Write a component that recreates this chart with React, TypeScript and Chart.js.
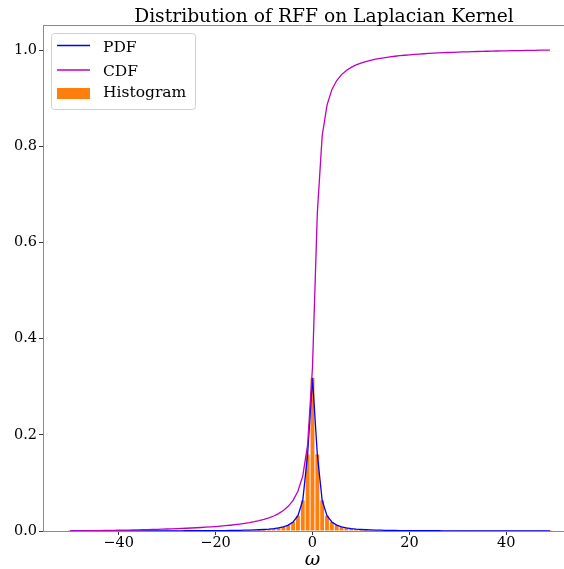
import React, { useEffect, useRef } from "react";
import { Chart, registerables } from "chart.js";

Chart.register(...registerables);

const titleText = "Distribution of RFF on Laplacian Kernel";
const xLabelText = "ω";
const legendLabels = ["PDF", "CDF", "Histogram"];

const omega = [
  -50, -49, -48, -47, -46, -45, -44, -43, -42, -41,
  -40, -39, -38, -37, -36, -35, -34, -33, -32, -31,
  -30, -29, -28, -27, -26, -25, -24, -23, -22, -21,
  -20, -19, -18, -17, -16, -15, -14, -13, -12, -11,
  -10, -9, -8, -7, -6, -5, -4, -3, -2, -1,
  0,
  1, 2, 3, 4, 5, 6, 7, 8, 9, 10,
  11, 12, 13, 14, 15, 16, 17, 18, 19, 20,
  21, 22, 23, 24, 25, 26, 27, 28, 29, 30,
  31, 32, 33, 34, 35, 36, 37, 38, 39, 40,
  41, 42, 43, 44, 45, 46, 47, 48, 49,
];

const pdfValues = [
  0.000127, 0.000133, 0.000138, 0.000144, 0.00015, 0.000157, 0.000164, 0.000172, 0.00018, 0.000189,
  0.000199, 0.000209, 0.00022, 0.000232, 0.000245, 0.00026, 0.000275, 0.000292, 0.000311, 0.000331,
  0.000353, 0.000378, 0.000405, 0.000436, 0.00047, 0.000508, 0.000552, 0.000601, 0.000656, 0.00072,
  0.000794, 0.000879, 0.000979, 0.001098, 0.001239, 0.001408, 0.001616, 0.001872, 0.002195, 0.002609,
  0.003152, 0.003882, 0.004897, 0.006366, 0.008603, 0.012243, 0.018724, 0.031831, 0.063662, 0.159155,
  0.31831,
  0.159155, 0.063662, 0.031831, 0.018724, 0.012243, 0.008603, 0.006366, 0.004897, 0.003882, 0.003152,
  0.002609, 0.002195, 0.001872, 0.001616, 0.001408, 0.001239, 0.001098, 0.000979, 0.000879, 0.000794,
  0.00072, 0.000656, 0.000601, 0.000552, 0.000508, 0.00047, 0.000436, 0.000405, 0.000378, 0.000353,
  0.000331, 0.000311, 0.000292, 0.000275, 0.00026, 0.000245, 0.000232, 0.00022, 0.000209, 0.000199,
  0.000189, 0.00018, 0.000172, 0.000164, 0.000157, 0.00015, 0.000144, 0.000138, 0.000133,
];

const cdfValues = [
  0, 0.000128, 0.000262, 0.000402, 0.000547, 0.000698, 0.000857, 0.001022, 0.001196, 0.001377,
  0.001568, 0.001769, 0.00198, 0.002202, 0.002436, 0.002683, 0.002945, 0.003223, 0.003518, 0.003831,
  0.004165, 0.004522, 0.004903, 0.005312, 0.005752, 0.006226, 0.006739, 0.007296, 0.007902, 0.008564,
  0.009291, 0.010092, 0.010979, 0.011967, 0.013075, 0.014325, 0.015746, 0.017376, 0.019265, 0.02148,
  0.024113, 0.027293, 0.031211, 0.036152, 0.042576, 0.051257, 0.063611, 0.082505, 0.114625, 0.178863,
  0.339463,
  0.660665, 0.821264, 0.885503, 0.917623, 0.936517, 0.948871, 0.957552, 0.963976, 0.968918, 0.972835,
  0.976015, 0.978648, 0.980863, 0.982752, 0.984383, 0.985803, 0.987054, 0.988162, 0.989149, 0.990036,
  0.990838, 0.991564, 0.992226, 0.992833, 0.99339, 0.993902, 0.994376, 0.994816, 0.995225, 0.995606,
  0.995963, 0.996297, 0.996611, 0.996905, 0.997183, 0.997445, 0.997692, 0.997926, 0.998148, 0.998359,
  0.99856, 0.998751, 0.998932, 0.999106, 0.999271, 0.99943, 0.999581, 0.999727, 0.999866,
];

// histogram bin heights (same as sampled density at integer bins)
const histHeights = pdfValues;

const xTicks = [-40, -20, 0, 20, 40];
const yTicks = [0, 0.2, 0.4, 0.6, 0.8, 1.0];

const FONT = '"DejaVu Serif", serif';
const SPINE = "#8a8a8a";
const BLUE = "#0000ff";
const MAGENTA = "#bf00bf";
const ORANGE = "#ff7f0e";

const overlayPlugin = {
  id: "overlay",
  afterDraw(chart: any) {
    const { ctx, chartArea } = chart;
    ctx.save();
    // top spine
    ctx.strokeStyle = SPINE;
    ctx.lineWidth = 1;
    ctx.beginPath();
    ctx.moveTo(chartArea.left, chartArea.top + 0.5);
    ctx.lineTo(chartArea.right, chartArea.top + 0.5);
    ctx.stroke();

    // title
    ctx.fillStyle = "#000";
    ctx.font = `18.7px ${FONT}`;
    ctx.textAlign = "center";
    ctx.textBaseline = "alphabetic";
    ctx.fillText(titleText, 324, 22);

    // x label
    ctx.font = `italic 19px ${FONT}`;
    ctx.fillText(xLabelText, chart.scales.x.getPixelForValue(0), 565);

    // legend
    const bx = 51.5, by = 33.5, bw = 144, bh = 76;
    ctx.beginPath();
    if (ctx.roundRect) ctx.roundRect(bx, by, bw, bh, 3);
    else ctx.rect(bx, by, bw, bh);
    ctx.fillStyle = "rgba(255,255,255,0.8)";
    ctx.fill();
    ctx.strokeStyle = "#d0d0d0";
    ctx.lineWidth = 1;
    ctx.stroke();

    ctx.lineWidth = 1.3;
    ctx.strokeStyle = BLUE;
    ctx.beginPath();
    ctx.moveTo(57, 45.5);
    ctx.lineTo(90, 45.5);
    ctx.stroke();
    ctx.strokeStyle = MAGENTA;
    ctx.beginPath();
    ctx.moveTo(57, 70);
    ctx.lineTo(90, 70);
    ctx.stroke();
    ctx.fillStyle = ORANGE;
    ctx.fillRect(57, 88, 33, 11);

    ctx.fillStyle = "#000";
    ctx.font = `15.5px ${FONT}`;
    ctx.textAlign = "left";
    ctx.textBaseline = "alphabetic";
    ctx.fillText(legendLabels[0], 103, 51.5);
    ctx.fillText(legendLabels[1], 103, 75.8);
    ctx.fillText(legendLabels[2], 103, 96.5);
    ctx.restore();
  },
};

const fmtX = (v: number) => (v < 0 ? "\u2212" + Math.abs(v) : String(v));

export default function App() {
  const ref = useRef<HTMLCanvasElement | null>(null);
  useEffect(() => {
    if (!ref.current) return;
    const chart = new Chart(ref.current, {
      type: "bar",
      data: {
        datasets: [
          {
            type: "line",
            label: legendLabels[0],
            data: omega.map((x, i) => ({ x, y: pdfValues[i] })),
            borderColor: BLUE,
            borderWidth: 1.3,
            pointRadius: 0,
            tension: 0,
            fill: false,
            order: 1,
          } as any,
          {
            type: "line",
            label: legendLabels[1],
            data: omega.map((x, i) => ({ x, y: cdfValues[i] })),
            borderColor: MAGENTA,
            borderWidth: 1.3,
            pointRadius: 0,
            tension: 0,
            fill: false,
            order: 0,
          } as any,
          {
            type: "bar",
            label: legendLabels[2],
            data: omega.map((x, i) => ({ x, y: histHeights[i] })),
            backgroundColor: ORANGE,
            borderWidth: 0,
            barPercentage: 0.8,
            categoryPercentage: 1.0,
            order: 2,
          } as any,
        ],
      },
      options: {
        animation: false,
        responsive: false,
        devicePixelRatio: 1,
        layout: { padding: { top: 25, left: 0, right: 0, bottom: 0 } },
        plugins: {
          legend: { display: false },
          title: { display: false },
          tooltip: { enabled: false },
        },
        scales: {
          x: {
            type: "linear",
            offset: false,
            min: -55.6,
            max: 51.9,
            afterBuildTicks: (s: any) => {
              s.ticks = xTicks.map((v) => ({ value: v }));
            },
            afterFit: (s: any) => {
              s.height = 38;
            },
            grid: {
              offset: false,
              drawOnChartArea: false,
              drawTicks: true,
              tickLength: 4,
              color: "#333",
            },
            border: { display: true, color: SPINE, width: 1 },
            ticks: {
              font: { family: FONT, size: 14.5 },
              color: "#000",
              padding: 0,
              maxRotation: 0,
              autoSkip: false,
              callback: (v: any) => fmtX(Number(v)),
            },
          },
          y: {
            type: "linear",
            min: 0,
            max: 1.052,
            afterBuildTicks: (s: any) => {
              s.ticks = yTicks.map((v) => ({ value: v }));
            },
            afterFit: (s: any) => {
              s.width = 43;
            },
            grid: {
              offset: false,
              drawOnChartArea: false,
              drawTicks: true,
              tickLength: 4,
              color: "#333",
            },
            border: { display: true, color: SPINE, width: 1 },
            ticks: {
              font: { family: FONT, size: 14.5 },
              color: "#000",
              padding: 2,
              autoSkip: false,
              callback: (v: any) => Number(v).toFixed(1),
            },
          },
        },
      } as any,
      plugins: [overlayPlugin],
    });
    return () => chart.destroy();
  }, []);

  return (
    <div
      style={{
        position: "fixed",
        left: 0,
        top: 0,
        width: 564,
        height: 569,
        overflow: "hidden",
        background: "#fff",
      }}
    >
      <canvas ref={ref} width={564} height={569} style={{ width: 564, height: 569, display: "block" }} />
    </div>
  );
}
